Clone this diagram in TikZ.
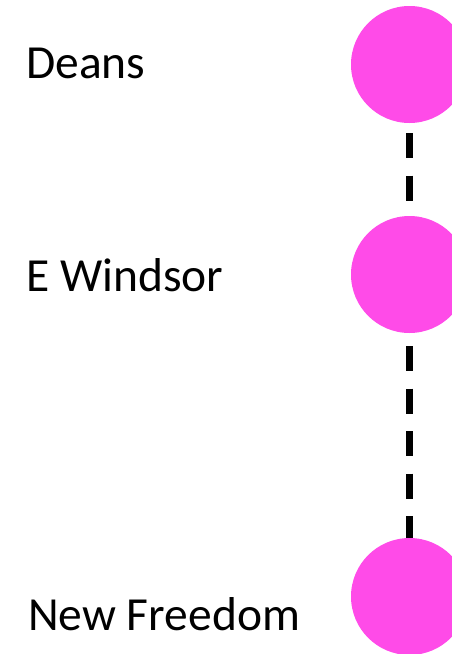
\documentclass[tikz,border=0pt]{standalone}
\usepackage{fontspec}
\setmainfont{Carlito}
\definecolor{townpink}{RGB}{255,75,232}
\begin{document}
\begin{tikzpicture}[x=1pt,y=1pt,
  town/.style={circle, fill=townpink, minimum size=117pt, inner sep=0pt},
  townname/.style={anchor=base west, inner sep=0pt, font=\fontsize{47.5}{52}\selectfont},
  road/.style={line width=7pt, dash pattern=on 25pt off 17.5pt}]
\useasboundingbox (0,0) rectangle (452,-654);
\clip (0,0) rectangle (452,-654);

% названия
\node [townname] (deanstxt) at (26,-78) {Deans};
\node [townname] (windsortxt) at (26,-291) {E Windsor};
\node [townname] (freedomtxt) at (28,-630) {New Freedom};

% остановки
\node [town] (deans) at (409.5,-64.5) {};
\node [town] (windsor) at (409.5,-274.5) {};
\node [town] (freedom) at (409.5,-596.5) {};

% дорога
\draw [road, dash phase=32.5pt] (deans.south) -- (windsor.north);
\draw [road, dash phase=29.5pt] (windsor.south) -- (freedom.north);
\end{tikzpicture}
\end{document}
